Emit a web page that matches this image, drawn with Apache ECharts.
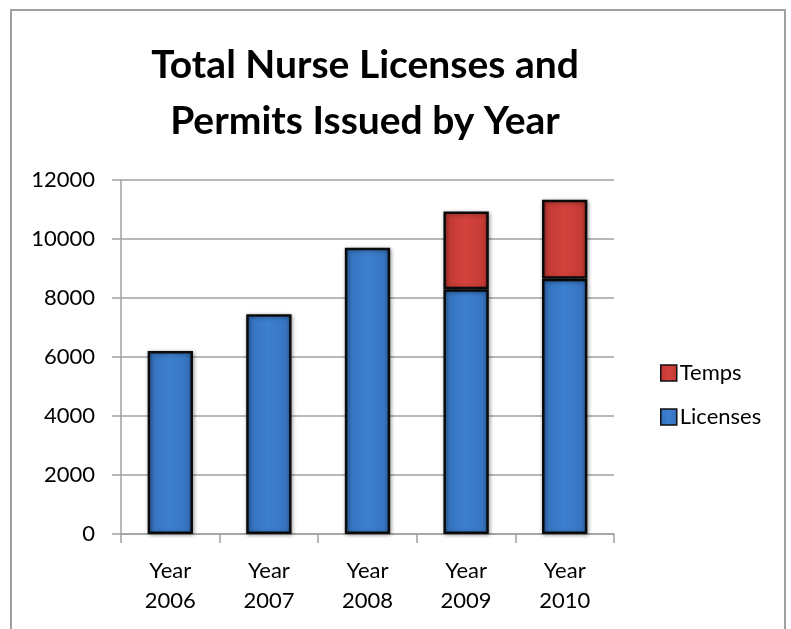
<!DOCTYPE html>
<html>
<head>
<meta charset="utf-8">
<script src="https://cdn.jsdelivr.net/npm/echarts@6/dist/echarts.min.js"></script>
<style>
html,body{margin:0;padding:0;background:#fff;}
#c{width:791px;height:629px;}
</style>
</head>
<body>
<div id="c"></div>
<script>
const categories = ['Year\n2006', 'Year\n2007', 'Year\n2008', 'Year\n2009', 'Year\n2010'];
const licenses = [6200, 7450, 9700, 8300, 8650];
const temps = [0, 0, 0, 2630, 2680];
const seriesNames = ['Licenses', 'Temps'];
const titleText = 'Total Nurse Licenses and\nPermits Issued by Year';

const chart = echarts.init(document.getElementById('c'), null, {renderer: 'canvas'});

function grad(dark, mid, light) {
  return new echarts.graphic.LinearGradient(0, 0, 1, 0, [
    {offset: 0, color: dark},
    {offset: 0.12, color: mid},
    {offset: 0.5, color: light},
    {offset: 0.88, color: mid},
    {offset: 1, color: dark}
  ]);
}
const blue = grad('#2a5a9c', '#3674c0', '#3d80d0');
const red = grad('#9c2a26', '#c43a35', '#d4433d');

const font = 'Lato';

chart.setOption({
  animation: false,
  graphic: [{
    type: 'rect',
    shape: {x: 11, y: 10, width: 774, height: 640},
    style: {fill: 'none', stroke: '#a0a0a0', lineWidth: 2},
    silent: true
  }],
  title: {
    text: titleText,
    left: 360,
    textAlign: 'center',
    top: 32,
    textStyle: {fontFamily: font, fontWeight: 'bold', fontSize: 39, lineHeight: 56, color: '#000'}
  },
  legend: {
    orient: 'vertical',
    left: 655,
    top: 357,
    itemWidth: 16,
    itemHeight: 16,
    itemGap: 22,
    data: ['Temps', 'Licenses'],
    textStyle: {fontFamily: font, fontSize: 22, color: '#000', padding: [0, 0, 0, -2]},
    icon: 'rect',
    itemStyle: {borderColor: '#111', borderWidth: 1.5}
  },
  grid: {left: 121, right: 177, top: 180, bottom: 95},
  xAxis: {
    type: 'category',
    data: categories,
    axisLine: {lineStyle: {color: '#a0a0a0', width: 1.5}},
    axisTick: {show: true, length: 9, lineStyle: {color: '#a0a0a0', width: 1.5}},
    axisLabel: {fontFamily: font, fontSize: 22, color: '#000', lineHeight: 30, margin: 22}
  },
  yAxis: {
    type: 'value',
    min: 0, max: 12000, interval: 2000,
    axisLine: {show: true, lineStyle: {color: '#a0a0a0', width: 1.5}},
    axisTick: {show: true, length: 9, lineStyle: {color: '#a0a0a0', width: 1.5}},
    splitLine: {lineStyle: {color: '#a0a0a0', width: 1.5}},
    axisLabel: {fontFamily: font, fontSize: 22, color: '#000', margin: 26, formatter: v => String(v)}
  },
  series: [
    {
      name: seriesNames[0],
      type: 'bar',
      stack: 'total',
      barWidth: '46%',
      data: licenses,
      itemStyle: {color: blue, borderColor: '#0b0b0b', borderWidth: 2.5,
        shadowColor: 'rgba(0,0,0,0.35)', shadowBlur: 4, shadowOffsetX: 1, shadowOffsetY: 1}
    },
    {
      name: seriesNames[1],
      type: 'bar',
      stack: 'total',
      barWidth: '46%',
      data: temps.map(v => v === 0 ? null : v),
      itemStyle: {color: red, borderColor: '#0b0b0b', borderWidth: 2.5,
        shadowColor: 'rgba(0,0,0,0.35)', shadowBlur: 4, shadowOffsetX: 1, shadowOffsetY: 1}
    }
  ]
});
</script>
</body>
</html>
